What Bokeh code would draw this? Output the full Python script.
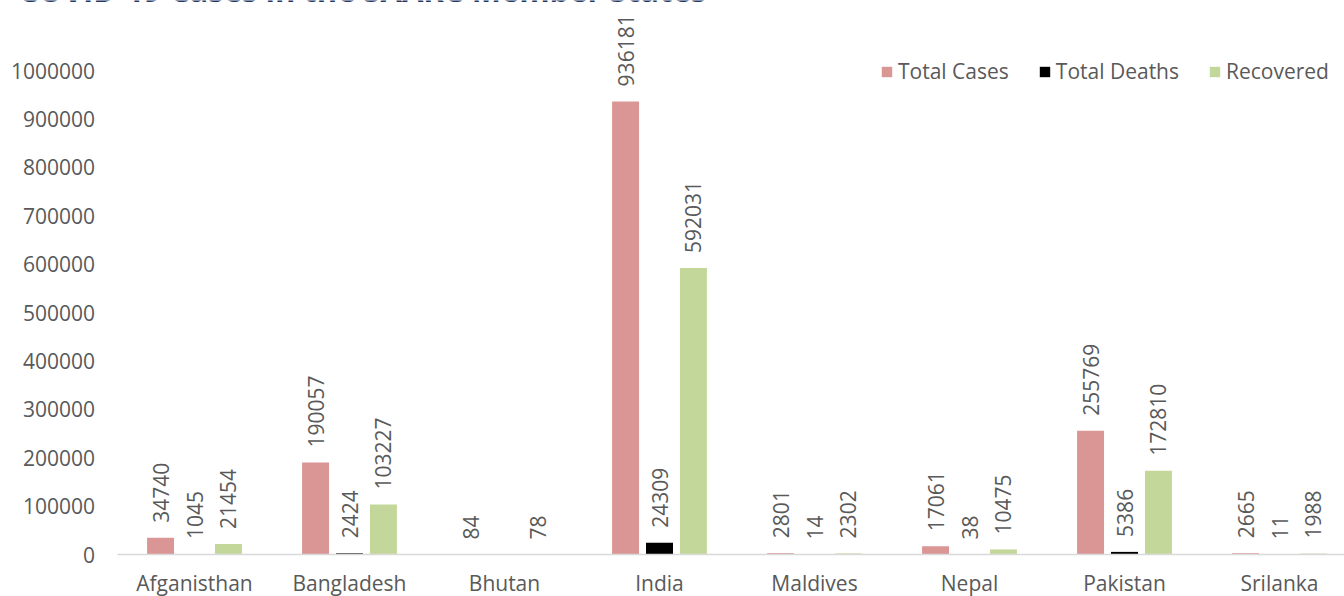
import math
from bokeh.plotting import figure
from bokeh.models import (ColumnDataSource, Range1d, FixedTicker, Legend,
                          LegendItem, Label)
from bokeh.embed import file_html
from bokeh.resources import INLINE
from bokeh.core.properties import value

# ---------------- data ----------------
countries = ["Afganisthan", "Bangladesh", "Bhutan", "India",
             "Maldives", "Nepal", "Pakistan", "Srilanka"]
total_cases = [34740, 190057, 84, 936181, 2801, 17061, 255769, 2665]
total_deaths = [1045, 2424, None, 24309, 14, 38, 5386, 11]
recovered = [21454, 103227, 78, 592031, 2302, 10475, 172810, 1988]
series_names = ["Total Cases", "Total Deaths", "Recovered"]
y_tick_values = [0, 100000, 200000, 300000, 400000, 500000,
                 600000, 700000, 800000, 900000, 1000000]
y_tick_labels = [str(v) for v in y_tick_values]
title_text = "COVID-19 Cases in the SAARC Member States"

# ---------------- style / layout ----------------
colors = ["#DA9694", "#000000", "#C4D79B"]
text_color = "#595959"
FONT = "Open Sans"
W, H = 1344, 596
ORIGIN_X = 116.5          # canvas x of the plot area's left edge
ZERO_Y = 554              # canvas y of value 0
BAND_PX = 155.0           # width of one category
PX_PER_UNIT = 484.0 / 1000000
bar_w = 0.174
bar_step = 0.219

x_start = -ORIGIN_X / BAND_PX
x_end = (W - ORIGIN_X) / BAND_PX
y_end = ZERO_Y / PX_PER_UNIT
y_start = -(H - ZERO_Y) / PX_PER_UNIT

p = figure(width=W, height=H, output_backend="svg", toolbar_location=None,
           x_range=Range1d(x_start, x_end), y_range=Range1d(y_start, y_end),
           min_border_left=0, min_border_right=0, min_border_top=0,
           min_border_bottom=0, outline_line_color=None,
           background_fill_color="white", border_fill_color="white")
p.xgrid.visible = False
p.ygrid.visible = False

series = [total_cases, total_deaths, recovered]
renderers = []
for j, (vals, col) in enumerate(zip(series, colors)):
    xs, tops, labels = [], [], []
    for i, v in enumerate(vals):
        if v is None:
            continue
        xs.append(i + 0.5 + (j - 1) * bar_step)
        tops.append(v)
        labels.append(str(v))
    src = ColumnDataSource(dict(x=xs, top=tops, label=labels))
    r = p.vbar(x="x", top="top", width=bar_w, bottom=0, source=src,
               fill_color=col, line_color=None)
    renderers.append(r)
    p.text(x="x", y="top", text="label", source=src, angle=math.pi / 2,
           text_align="left", text_baseline="middle", y_offset=-15,
           text_font=value(FONT), text_font_size="21px",
           text_color=text_color)

# x axis (sits on value 0)
p.xaxis.fixed_location = 0
p.xaxis.bounds = (0, x_end)
p.xaxis.ticker = FixedTicker(ticks=[i + 0.5 for i in range(len(countries))])
p.xaxis.major_label_overrides = {i + 0.5: c for i, c in enumerate(countries)}
p.xaxis.axis_line_color = "#D9D9D9"
p.xaxis.axis_line_width = 1.5
p.xaxis.major_tick_line_color = None
p.xaxis.minor_tick_line_color = None
p.xaxis.major_tick_out = 0
p.xaxis.major_tick_in = 0
p.xaxis.major_label_standoff = 14
p.xaxis.major_label_text_font = FONT
p.xaxis.major_label_text_font_size = "21px"
p.xaxis.major_label_text_color = text_color

# y axis (sits on the plot area's left edge)
p.yaxis.fixed_location = 0
p.yaxis.ticker = FixedTicker(ticks=y_tick_values)
p.yaxis.major_label_overrides = {v: l for v, l in zip(y_tick_values, y_tick_labels)}
p.yaxis.axis_line_color = None
p.yaxis.major_tick_line_color = None
p.yaxis.minor_tick_line_color = None
p.yaxis.major_tick_out = 0
p.yaxis.major_tick_in = 0
p.yaxis.major_label_standoff = 22
p.yaxis.major_label_text_font = FONT
p.yaxis.major_label_text_font_size = "21px"
p.yaxis.major_label_text_color = text_color

# legend
legend = Legend(items=[LegendItem(label=n, renderers=[r])
                       for n, r in zip(series_names, renderers)],
                orientation="horizontal", location=(880, H - 85),
                glyph_width=13, glyph_height=13, label_standoff=5,
                spacing=29, padding=0, margin=0,
                border_line_color=None, background_fill_alpha=0,
                label_text_font=FONT, label_text_font_size="21px",
                label_text_color=text_color)
p.add_layout(legend, "center")

# title (cut at the top edge, as in the reference)
title = Label(x=18, y=H + 11, x_units="screen", y_units="screen",
              text=title_text, text_font=FONT, text_font_size="31px",
              text_font_style="bold", text_color="#1F3864",
              text_baseline="alphabetic", text_align="left")
p.add_layout(title)

open("out.html", "w").write(file_html(p, INLINE))
